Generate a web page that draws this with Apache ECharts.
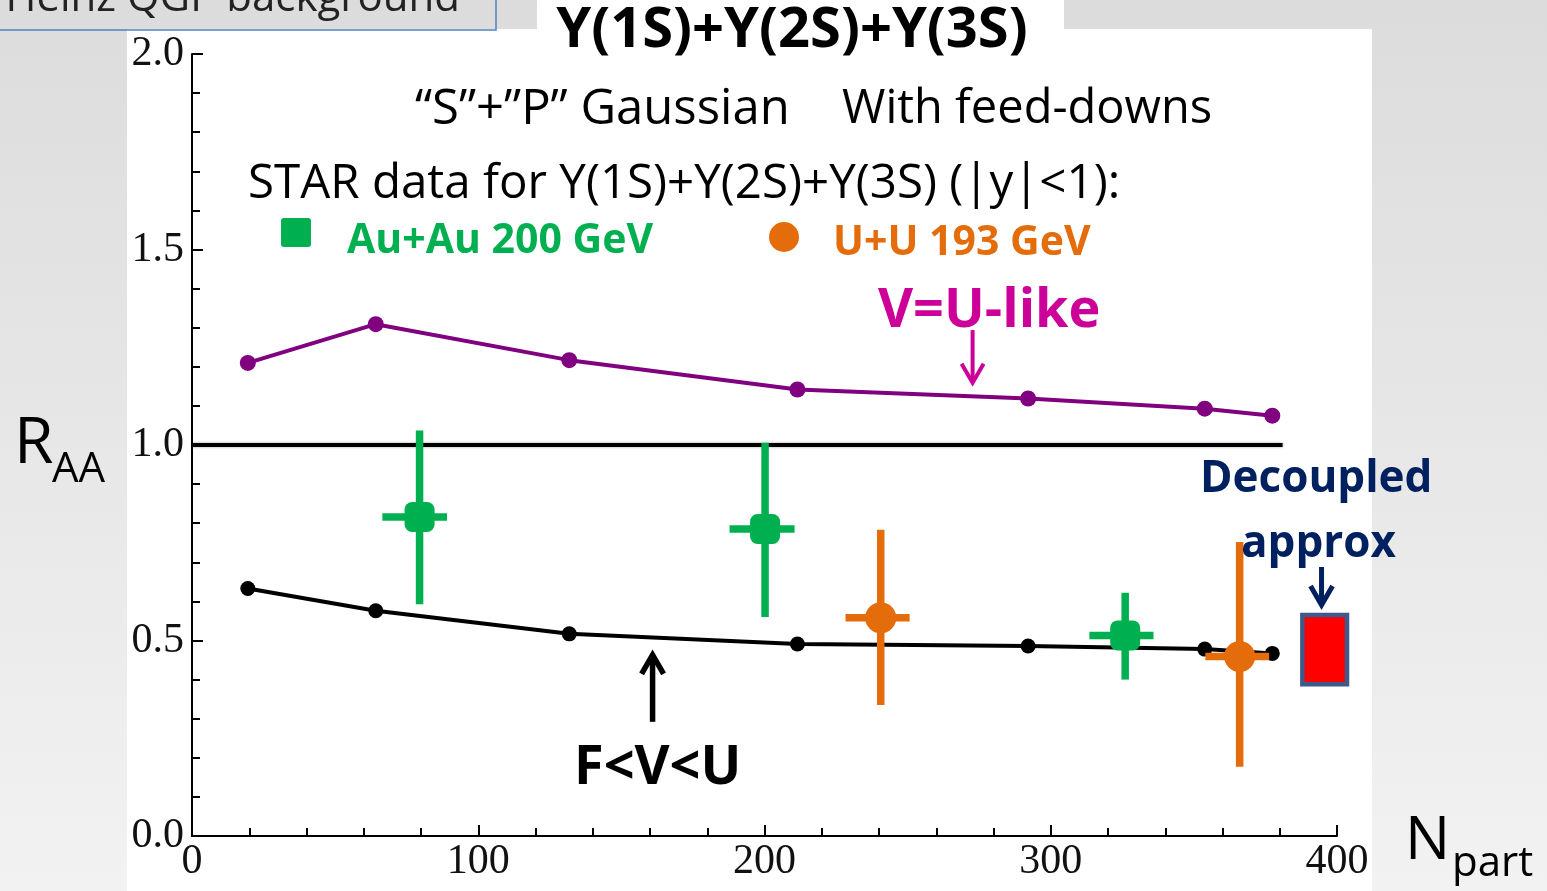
<!DOCTYPE html>
<html>
<head>
<meta charset="utf-8">
<script src="https://cdn.jsdelivr.net/npm/echarts@6/dist/echarts.min.js"></script>
<style>
  html, body { margin: 0; padding: 0; overflow: hidden; }
  #chart { width: 1547px; height: 891px; }
</style>
</head>
<body>
<div id="chart"></div>
<script>
// model curves (Npart vs R_AA)
const npartModel = [19.5, 64.2, 131.8, 211.5, 292.1, 353.8, 377.4];
const raaFVU = [0.633, 0.576, 0.517, 0.491, 0.486, 0.478, 0.467];
const raaVUlike = [1.210, 1.309, 1.217, 1.142, 1.119, 1.093, 1.075];
const unityX = [0, 381];

// STAR Au+Au 200 GeV
const auauNpart = [79.5, 200.2, 326.0];
const auauRaa = [0.816, 0.785, 0.513];
const auauLow = [0.593, 0.560, 0.400];
const auauHigh = [1.037, 1.006, 0.622];
const auauXLow = [66.5, 187.8, 313.5];
const auauXHigh = [89.1, 210.5, 335.9];

// STAR U+U 193 GeV
const uuNpart = [240.6, 366.0];
const uuRaa = [0.558, 0.459];
const uuLow = [0.335, 0.177];
const uuHigh = [0.783, 0.752];
const uuXLow = [228.3, 354.0];
const uuXHigh = [250.7, 376.3];

// decoupled approximation box
const decoupledX = [387.9, 403.5];
const decoupledY = [0.388, 0.565];

// annotation arrows: x, tail y, tip y
const arrowX = [272.7, 160.9, 394.6];
const arrowTail = [1.294, 0.292, 0.688];
const arrowTip = [1.159, 0.463, 0.591];
const arrowColors = ['#cc0099', '#000000', '#002060'];
const arrowWidths = [4, 5.5, 5];

const W = 1547, H = 891;
const SANS = '"Open Sans", "Noto Sans", sans-serif';

let chart = echarts.init(document.getElementById('chart'), null, { renderer: 'canvas' });

function errorBarItem(params, api) {
    const x = api.value(0), y = api.value(1);
    const top = api.coord([x, api.value(3)]);
    const bottom = api.coord([x, api.value(2)]);
    const left = api.coord([api.value(4), y]);
    const right = api.coord([api.value(5), y]);
    const color = api.visual('color');
    return {
        type: 'group',
        children: [
            { type: 'line', shape: { x1: top[0], y1: top[1], x2: bottom[0], y2: bottom[1] }, style: { stroke: color, lineWidth: 7.5 } },
            { type: 'line', shape: { x1: left[0], y1: left[1], x2: right[0], y2: right[1] }, style: { stroke: color, lineWidth: 7.5 } }
        ]
    };
}

function arrowItem(params, api) {
    const i = params.dataIndex;
    const tail = api.coord([api.value(0), api.value(1)]);
    const tip = api.coord([api.value(0), api.value(2)]);
    const dir = tip[1] > tail[1] ? 1 : -1;
    const color = arrowColors[i];
    const lw = arrowWidths[i];
    return {
        type: 'group',
        children: [
            { type: 'line', shape: { x1: tail[0], y1: tail[1], x2: tip[0], y2: tip[1] - dir * 2 }, style: { stroke: color, lineWidth: lw } },
            { type: 'polyline', shape: { points: [[tip[0] - 11, tip[1] - dir * 19], [tip[0], tip[1]], [tip[0] + 11, tip[1] - dir * 19]] },
              style: { stroke: color, lineWidth: lw, fill: null, lineJoin: 'miter' } }
        ]
    };
}

function boxItem(params, api) {
    const p0 = api.coord([api.value(0), api.value(3)]);
    const p1 = api.coord([api.value(1), api.value(2)]);
    return {
        type: 'rect',
        shape: { x: p0[0], y: p0[1], width: p1[0] - p0[0], height: p1[1] - p0[1] },
        style: { fill: '#ff0000', stroke: '#3d5a8a', lineWidth: 4.5 }
    };
}

function txt(text, x, y, size, color, weight, align) {
    return {
        type: 'text', x: x, y: y, z: 100, silent: true,
        style: {
            text: text, fill: color, fontSize: size, fontWeight: weight || 'normal',
            fontFamily: SANS, textAlign: align || 'left', textVerticalAlign: 'middle'
        }
    };
}

let option = {
    animation: false,
    backgroundColor: '#e6e6e6',
    grid: { left: 192, right: 210, top: 54, bottom: 55 },
    xAxis: {
        type: 'value', min: 0, max: 400, interval: 100,
        axisLine: { lineStyle: { color: '#000', width: 2 } },
        axisTick: { inside: true, length: 11, lineStyle: { color: '#000', width: 2 } },
        minorTick: { show: true, splitNumber: 5, length: 8, lineStyle: { color: '#000', width: 2 } },
        splitLine: { show: false },
        axisLabel: { fontFamily: '"Liberation Serif", serif', fontSize: 42, color: '#111', margin: 5 }
    },
    yAxis: {
        type: 'value', min: 0, max: 2, interval: 0.5,
        axisLine: { lineStyle: { color: '#000', width: 2 } },
        axisTick: { inside: true, length: 11, lineStyle: { color: '#000', width: 2 } },
        minorTick: { show: true, splitNumber: 5, length: 8, lineStyle: { color: '#000', width: 2 } },
        splitLine: { show: false },
        axisLabel: { fontFamily: '"Liberation Serif", serif', fontSize: 42, color: '#111', margin: 8,
                     formatter: v => v.toFixed(1) }
    },
    graphic: [
        { type: 'rect', z: -10, silent: true, shape: { x: 0, y: 0, width: W, height: H },
          style: { fill: { type: 'linear', x: 0, y: 0, x2: 0, y2: 1,
                   colorStops: [{ offset: 0, color: '#dcdcdc' }, { offset: 1, color: '#f2f2f2' }] } } },
        { type: 'rect', z: -9, silent: true, shape: { x: 127, y: 29, width: 1245, height: 862 }, style: { fill: '#fff' } },
        { type: 'rect', z: -9, silent: true, shape: { x: 537, y: 0, width: 527, height: 30 }, style: { fill: '#fff' } },
        { type: 'polyline', z: -8, silent: true, shape: { points: [[0, 30], [496, 30], [496, -2]] },
          style: { stroke: '#4f81bd', lineWidth: 1.5, fill: null } },
        txt('by Heinz QGP background', 460, -1, 42, '#222', 'normal', 'right'),
        txt('\u03a5(1S)+\u03a5(2S)+\u03a5(3S)', 792, 31, 56, '#000', 'bold', 'center'),
        txt('\u201cS\u201d+\u201dP\u201d Gaussian', 415, 110, 49, '#000'),
        txt('With feed-downs', 842, 110, 47, '#000'),
        txt('STAR data for \u03a5(1S)+\u03a5(2S)+\u03a5(3S) (|y|<1):', 248, 184, 47.5, '#000'),
        { type: 'rect', z: 100, silent: true, shape: { x: 281, y: 218, width: 30, height: 29, r: 3 }, style: { fill: '#00b050' } },
        txt('Au+Au 200 GeV', 347, 241, 41, '#00b050', 'bold'),
        { type: 'circle', z: 100, silent: true, shape: { cx: 784, cy: 237, r: 15 }, style: { fill: '#e46c0a' } },
        txt('U+U 193 GeV', 833, 243, 41, '#e46c0a', 'bold'),
        txt('V=U-like', 878, 312, 54, '#cc0099', 'bold'),
        txt('Decoupled', 1200, 479, 44, '#002060', 'bold'),
        txt('approx', 1241, 544, 44, '#002060', 'bold'),
        txt('F<V<U', 574, 769, 54, '#000', 'bold'),
        txt('R', 14, 445, 64, '#000'),
        txt('AA', 52, 470, 42, '#000'),
        txt('N', 1405, 842, 60, '#000'),
        txt('part', 1452, 864, 42, '#000')
    ],
    series: [
        {
            type: 'line', name: 'unity', silent: true, symbol: 'none', z: 2,
            lineStyle: { color: '#000', width: 4, shadowColor: 'rgba(0,0,0,0.35)', shadowBlur: 3 },
            data: unityX.map(x => [x, 1])
        },
        {
            type: 'line', name: 'F<V<U', silent: true, symbol: 'circle', symbolSize: 15, z: 3,
            itemStyle: { color: '#000' }, lineStyle: { color: '#000', width: 4 },
            data: npartModel.map((x, i) => [x, raaFVU[i]])
        },
        {
            type: 'line', name: 'V=U-like', silent: true, symbol: 'circle', symbolSize: 16, z: 3,
            itemStyle: { color: '#800080' }, lineStyle: { color: '#800080', width: 4 },
            data: npartModel.map((x, i) => [x, raaVUlike[i]])
        },
        {
            type: 'custom', name: 'Au+Au errors', silent: true, z: 4, clip: false,
            itemStyle: { color: '#00b050' }, encode: { x: 0, y: 1 },
            renderItem: errorBarItem,
            data: auauNpart.map((x, i) => [x, auauRaa[i], auauLow[i], auauHigh[i], auauXLow[i], auauXHigh[i]])
        },
        {
            type: 'custom', name: 'U+U errors', silent: true, z: 4, clip: false,
            itemStyle: { color: '#e46c0a' }, encode: { x: 0, y: 1 },
            renderItem: errorBarItem,
            data: uuNpart.map((x, i) => [x, uuRaa[i], uuLow[i], uuHigh[i], uuXLow[i], uuXHigh[i]])
        },
        {
            type: 'scatter', name: 'Au+Au 200 GeV', silent: true, z: 5,
            symbol: 'roundRect', symbolSize: 30, itemStyle: { color: '#00b050', opacity: 1 },
            data: auauNpart.map((x, i) => [x, auauRaa[i]])
        },
        {
            type: 'scatter', name: 'U+U 193 GeV', silent: true, z: 5,
            symbol: 'circle', symbolSize: 31, itemStyle: { color: '#e46c0a', opacity: 1 },
            data: uuNpart.map((x, i) => [x, uuRaa[i]])
        },
        {
            type: 'custom', name: 'Decoupled approx', silent: true, z: 5, clip: false,
            encode: { x: [0, 1], y: [2, 3] },
            renderItem: boxItem,
            data: [[decoupledX[0], decoupledX[1], decoupledY[0], decoupledY[1]]]
        },
        {
            type: 'custom', name: 'arrows', silent: true, z: 6, clip: false,
            encode: { x: 0, y: [1, 2] },
            renderItem: arrowItem,
            data: arrowX.map((x, i) => [x, arrowTail[i], arrowTip[i]])
        }
    ]
};

chart.setOption(option);
</script>
</body>
</html>
